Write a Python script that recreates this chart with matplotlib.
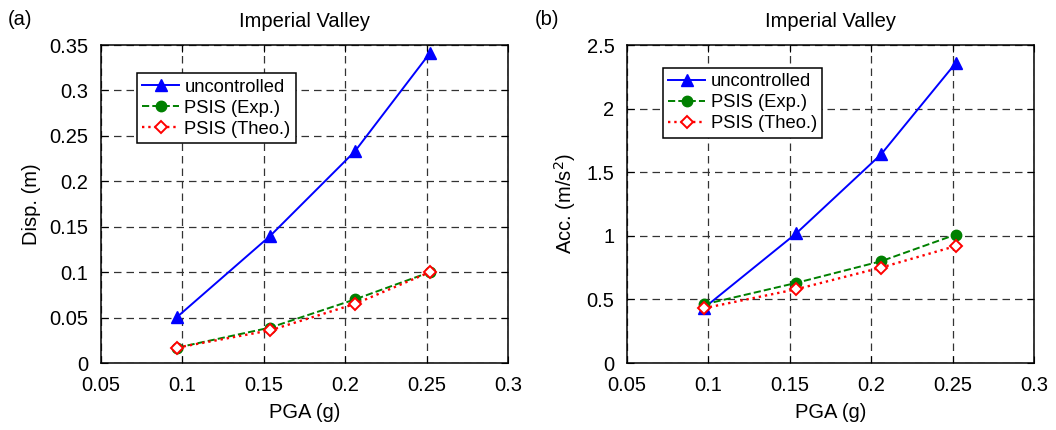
import matplotlib
matplotlib.use("Agg")
import matplotlib.pyplot as plt

plt.rcParams['font.family'] = ['Liberation Sans', 'DejaVu Sans']

pga = [0.097, 0.154, 0.206, 0.252]
disp_unc = [0.051, 0.140, 0.233, 0.341]
disp_exp = [0.017, 0.039, 0.070, 0.100]
disp_theo = [0.017, 0.036, 0.065, 0.100]
acc_unc = [0.43, 1.02, 1.64, 2.36]
acc_exp = [0.46, 0.63, 0.80, 1.01]
acc_theo = [0.43, 0.58, 0.75, 0.92]

xticks = [0.05, 0.1, 0.15, 0.2, 0.25, 0.3]
xticklabels = ['0.05', '0.1', '0.15', '0.2', '0.25', '0.3']
yticks_d = [0, 0.05, 0.1, 0.15, 0.2, 0.25, 0.3, 0.35]
yticklabels_d = ['0', '0.05', '0.1', '0.15', '0.2', '0.25', '0.3', '0.35']
yticks_a = [0, 0.5, 1, 1.5, 2, 2.5]
yticklabels_a = ['0', '0.5', '1', '1.5', '2', '2.5']

fig = plt.figure(figsize=(10.56, 4.30), dpi=100)
ax1 = fig.add_axes([0.0956, 0.1558, 0.3854, 0.7395])
ax2 = fig.add_axes([0.5938, 0.1558, 0.3854, 0.7395])

def style(ax, unc, exp, theo, yticks, ylabels, ylim, ylabel, tag, legloc):
    ax.plot(pga, unc, '-', color='#0000ff', marker='^', markersize=9, lw=1.4,
            markerfacecolor='#0000ff', label='uncontrolled')
    ax.plot(pga, exp, '--', color='#008000', marker='o', markersize=7.5, lw=1.4,
            markerfacecolor='#008000', label='PSIS (Exp.)')
    ax.plot(pga, theo, ':', color='#ff0000', marker='D', markersize=6, lw=1.7,
            markerfacecolor='white', markeredgewidth=1.4, label='PSIS (Theo.)')
    ax.set_xlim(0.05, 0.3)
    ax.set_ylim(*ylim)
    ax.set_xticks(xticks)
    ax.set_xticklabels(xticklabels)
    ax.set_yticks(yticks)
    ax.set_yticklabels(ylabels)
    ax.grid(True, color='#333333', linestyle=(0, (6, 4)), lw=0.9)
    ax.tick_params(direction='in', top=True, right=True, labelsize=14.5, length=5,
                   width=0.8)
    ax.tick_params(axis='y', pad=9)
    ax.tick_params(axis='x', pad=9)
    for s in ax.spines.values():
        s.set_linewidth(1.1)
    ax.set_xlabel('PGA (g)', fontsize=14.5, labelpad=6)
    ax.set_ylabel(ylabel, fontsize=14.5, labelpad=6)
    ax.set_title('Imperial Valley', fontsize=14.5, pad=13)
    leg = ax.legend(loc='upper left', bbox_to_anchor=legloc, fontsize=13.2,
                    frameon=True, fancybox=False, edgecolor='black',
                    framealpha=1.0, borderpad=0.3, labelspacing=0.22,
                    handlelength=2.0, handletextpad=0.3, borderaxespad=0)
    leg.get_frame().set_linewidth(1.1)
    ax.text(-0.228, 1.08, tag, transform=ax.transAxes, fontsize=14.5,
            ha='left', va='center')

style(ax1, disp_unc, disp_exp, disp_theo, yticks_d, yticklabels_d, (0, 0.35),
      'Disp. (m)', '(a)', (0.088, 0.912))
style(ax2, acc_unc, acc_exp, acc_theo, yticks_a, yticklabels_a, (0, 2.5),
      'Acc. (m/s$^2$)', '(b)', (0.088, 0.928))

fig.savefig('out.png', dpi=100)
